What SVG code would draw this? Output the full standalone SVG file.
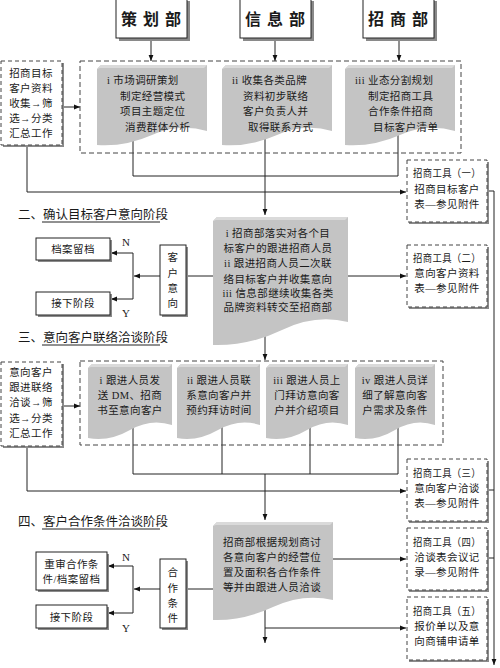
<svg xmlns="http://www.w3.org/2000/svg" width="500" height="668" viewBox="0 0 500 668">
<defs>
<marker id="ah" viewBox="0 0 10 10" refX="10" refY="5" markerWidth="6" markerHeight="6" orient="auto"><path d="M0,1 L10,5 L0,9 Z" fill="#111"/></marker>
<style>
.box{fill:#fff;stroke:#222;stroke-width:1}
.sh{fill:#8a8a8a}
.dash{fill:#fff;stroke:#444;stroke-width:1;stroke-dasharray:4 3}
.cont{fill:none;stroke:#444;stroke-width:1;stroke-dasharray:5 3}
.doc{fill:#c4c4c4}
.bev{fill:#dadada}
.ln{fill:none;stroke:#222;stroke-width:1}
.t{font-family:"Liberation Serif","Noto Sans CJK SC",serif;fill:#1a1a1a}
.s{font-size:10.5px;letter-spacing:0.4px}
.m{text-anchor:middle}
.hd{font-size:12.5px}
.top{font-size:16px;font-weight:bold;letter-spacing:6px;text-anchor:middle}
</style>
</defs>
<rect width="500" height="668" fill="#fff"/>

<g id="connectors">
<path class="ln" d="M151,38 V61" marker-end="url(#ah)"/>
<path class="ln" d="M275,38 V61" marker-end="url(#ah)"/>
<path class="ln" d="M399,38 V61" marker-end="url(#ah)"/>
<path class="ln" d="M62,107 H80" marker-end="url(#ah)"/>
<path class="ln" d="M133,135 V176 M265,135 V176 M398,135 V176 M133,176 H398"/>
<path class="ln" d="M265,176 V215" marker-end="url(#ah)"/>
<path class="ln" d="M27,145 V192 H406" marker-end="url(#ah)"/>
<path class="ln" d="M487,191 H494 V665" marker-end="url(#ah)"/>
<path class="ln" d="M487,490 H494 M487,558 H494"/>
<path class="ln" d="M348,276 H406" marker-end="url(#ah)"/>
<path class="ln" d="M213,276 H186"/>
<path class="ln" d="M160,276 H134" marker-end="url(#ah)"/>
<path class="ln" d="M133,253 V299"/>
<path class="ln" d="M133,253 H111" marker-end="url(#ah)"/>
<path class="ln" d="M133,299 H111" marker-end="url(#ah)"/>
<path class="ln" d="M265,335 V360" marker-end="url(#ah)"/>
<path class="ln" d="M62,406 H80" marker-end="url(#ah)"/>
<path class="ln" d="M133,425 V474 M222,425 V474 M310,425 V474 M398,425 V474 M133,474 H398"/>
<path class="ln" d="M265,474 V520" marker-end="url(#ah)"/>
<path class="ln" d="M27,446 V491 H406" marker-end="url(#ah)"/>
<path class="ln" d="M333,559 H406" marker-end="url(#ah)"/>
<path class="ln" d="M213,589 H186"/>
<path class="ln" d="M160,589 H134" marker-end="url(#ah)"/>
<path class="ln" d="M133,566 V613"/>
<path class="ln" d="M133,566 H108" marker-end="url(#ah)"/>
<path class="ln" d="M133,613 H108" marker-end="url(#ah)"/>
<path class="ln" d="M265,610 V643" marker-end="url(#ah)"/>
<path class="ln" d="M265,628 H406" marker-end="url(#ah)"/>
</g>

<g id="dept-cehua">
<rect class="sh" x="119" y="1" width="71" height="40"/>
<rect class="box" x="116" y="-2" width="71" height="40"/>
<text class="t top" x="154" y="25">策划部</text>
</g>
<g id="dept-xinxi">
<rect class="sh" x="243" y="1" width="71" height="40"/>
<rect class="box" x="240" y="-2" width="71" height="40"/>
<text class="t top" x="278" y="25">信息部</text>
</g>
<g id="dept-zhaoshang">
<rect class="sh" x="366" y="1" width="71" height="40"/>
<rect class="box" x="363" y="-2" width="71" height="40"/>
<text class="t top" x="401" y="25">招商部</text>
</g>

<g id="container-1"><rect class="cont" x="80" y="61" width="381" height="92"/></g>
<g id="left-1">
<rect class="sh" x="3" y="63" width="61" height="84"/>
<rect class="dash" x="1" y="61" width="61" height="84"/>
<text class="t s m" x="31" y="77">招商目标</text>
<text class="t s m" x="31" y="92">客户资料</text>
<text class="t s m" x="31" y="107">收集→筛</text>
<text class="t s m" x="31" y="122">选→分类</text>
<text class="t s m" x="31" y="137">汇总工作</text>
</g>
<g id="doc-1a">
<path class="doc" d="M97,69 L101,65 L207,65 L207,131 Q179,123 152,135 T97,145 Z"/>
<path class="bev" d="M97,69 L101,65 L207,65 L204,68 L100,68 Z"/>
<text class="t s" x="107" y="84">i 市场调研策划</text>
<text class="t s" x="120" y="100">制定经营模式</text>
<text class="t s" x="120" y="115">项目主题定位</text>
<text class="t s" x="125" y="131">消费群体分析</text>
</g>
<g id="doc-1b">
<path class="doc" d="M222,69 L226,65 L332,65 L332,131 Q304,123 277,135 T222,145 Z"/>
<path class="bev" d="M222,69 L226,65 L332,65 L329,68 L225,68 Z"/>
<text class="t s" x="232" y="84">ii 收集各类品牌</text>
<text class="t s" x="243" y="100">资料初步联络</text>
<text class="t s" x="243" y="115">客户负责人并</text>
<text class="t s" x="248" y="131">取得联系方式</text>
</g>
<g id="doc-1c">
<path class="doc" d="M345,69 L349,65 L455,65 L455,131 Q427,123 400,135 T345,145 Z"/>
<path class="bev" d="M345,69 L349,65 L455,65 L452,68 L348,68 Z"/>
<text class="t s" x="355" y="84">iii 业态分割规划</text>
<text class="t s" x="368" y="100">制定招商工具</text>
<text class="t s" x="368" y="115">合作条件招商</text>
<text class="t s" x="373" y="131">目标客户清单</text>
</g>
<g id="tool-1">
<rect class="sh" x="409" y="162" width="80" height="62"/>
<rect class="dash" x="407" y="160" width="80" height="62"/>
<text class="t s m" x="447" y="177" textLength="68" lengthAdjust="spacingAndGlyphs">招商工具（一）</text>
<text class="t s m" x="447" y="193">招商目标客户</text>
<text class="t s m" x="447" y="208">表—参见附件</text>
</g>

<g id="heading-2">
<text class="t hd" x="18" y="219">二、确认目标客户意向阶段</text>
<line x1="42" y1="222" x2="160" y2="222" stroke="#222" stroke-width="1"/>
</g>
<g id="doc-2">
<path class="doc" d="M213,221 L217,217 L348,217 L348,322 Q315,314 282,330 T213,345 Z"/>
<path class="bev" d="M213,221 L217,217 L348,217 L345,220 L216,220 Z"/>
<text class="t s m" x="278" y="237">i 招商部落实对各个目</text>
<text class="t s m" x="278" y="252">标客户的跟进招商人员</text>
<text class="t s m" x="278" y="267">ii 跟进招商人员二次联</text>
<text class="t s m" x="278" y="283">络目标客户并收集意向</text>
<text class="t s m" x="278" y="297">iii 信息部继续收集各类</text>
<text class="t s m" x="278" y="311">品牌资料转交至招商部</text>
</g>
<g id="intent">
<rect class="sh" x="162" y="247" width="26" height="70"/>
<rect class="box" x="160" y="245" width="26" height="70"/>
<text class="t s m" x="173" y="261">客</text>
<text class="t s m" x="173" y="277">户</text>
<text class="t s m" x="173" y="292">意</text>
<text class="t s m" x="173" y="307">向</text>
</g>
<g id="archive-2">
<rect class="sh" x="38" y="240" width="74" height="22"/>
<rect class="box" x="36" y="238" width="74" height="22"/>
<text class="t s m" x="73" y="253">档案留档</text>
</g>
<g id="next-2">
<rect class="sh" x="38" y="294" width="74" height="23"/>
<rect class="box" x="36" y="292" width="74" height="23"/>
<text class="t s m" x="73" y="307">接下阶段</text>
</g>
<text class="t" x="122" y="246" font-size="11">N</text>
<text class="t" x="122" y="317" font-size="11">Y</text>
<g id="tool-2">
<rect class="sh" x="409" y="247" width="80" height="62"/>
<rect class="dash" x="407" y="245" width="80" height="62"/>
<text class="t s m" x="447" y="262" textLength="68" lengthAdjust="spacingAndGlyphs">招商工具（二）</text>
<text class="t s m" x="447" y="277">意向客户资料</text>
<text class="t s m" x="447" y="292">表—参见附件</text>
</g>

<g id="heading-3">
<text class="t hd" x="18" y="342">三、意向客户联络洽谈阶段</text>
<line x1="42" y1="345" x2="160" y2="345" stroke="#222" stroke-width="1"/>
</g>
<g id="container-3"><rect class="cont" x="80" y="361" width="363" height="84"/></g>
<g id="left-3">
<rect class="sh" x="3" y="364" width="61" height="84"/>
<rect class="dash" x="1" y="362" width="61" height="84"/>
<text class="t s m" x="31" y="376">意向客户</text>
<text class="t s m" x="31" y="391">跟进联络</text>
<text class="t s m" x="31" y="406">洽谈→筛</text>
<text class="t s m" x="31" y="422">选→分类</text>
<text class="t s m" x="31" y="437">汇总工作</text>
</g>
<g id="doc-3a">
<path class="doc" d="M88,368 L92,364 L172,364 L172,425 Q151,418 130,430 T88,438 Z"/>
<path class="bev" d="M88,368 L92,364 L172,364 L169,367 L91,367 Z"/>
<text class="t s m" x="130" y="384">i 跟进人员发</text>
<text class="t s m" x="130" y="399">送 DM、招商</text>
<text class="t s m" x="130" y="414">书至意向客户</text>
</g>
<g id="doc-3b">
<path class="doc" d="M177,368 L181,364 L260,364 L260,425 Q239,418 218,430 T177,438 Z"/>
<path class="bev" d="M177,368 L181,364 L260,364 L257,367 L180,367 Z"/>
<text class="t s m" x="219" y="384">ii 跟进人员联</text>
<text class="t s m" x="219" y="399">系意向客户并</text>
<text class="t s m" x="219" y="414">预约拜访时间</text>
</g>
<g id="doc-3c">
<path class="doc" d="M266,368 L270,364 L348,364 L348,425 Q327,418 307,430 T266,438 Z"/>
<path class="bev" d="M266,368 L270,364 L348,364 L345,367 L269,367 Z"/>
<text class="t s m" x="307" y="384">iii 跟进人员上</text>
<text class="t s m" x="307" y="399">门拜访意向客</text>
<text class="t s m" x="307" y="414">户并介绍项目</text>
</g>
<g id="doc-3d">
<path class="doc" d="M355,368 L359,364 L435,364 L435,425 Q415,418 395,430 T355,438 Z"/>
<path class="bev" d="M355,368 L359,364 L435,364 L432,367 L358,367 Z"/>
<text class="t s m" x="395" y="384">iv 跟进人员详</text>
<text class="t s m" x="395" y="399">细了解意向客</text>
<text class="t s m" x="395" y="414">户需求及条件</text>
</g>
<g id="tool-3">
<rect class="sh" x="409" y="461" width="80" height="62"/>
<rect class="dash" x="407" y="459" width="80" height="62"/>
<text class="t s m" x="447" y="477" textLength="68" lengthAdjust="spacingAndGlyphs">招商工具（三）</text>
<text class="t s m" x="447" y="492">意向客户洽谈</text>
<text class="t s m" x="447" y="507">表—参见附件</text>
</g>

<g id="heading-4">
<text class="t hd" x="18" y="526">四、客户合作条件洽谈阶段</text>
<line x1="42" y1="529" x2="160" y2="529" stroke="#222" stroke-width="1"/>
</g>
<g id="doc-4">
<path class="doc" d="M213,526 L217,522 L333,522 L333,600 Q303,593 273,607 T213,620 Z"/>
<path class="bev" d="M213,526 L217,522 L333,522 L330,525 L216,525 Z"/>
<text class="t s m" x="272" y="546">招商部根据规划商讨</text>
<text class="t s m" x="272" y="561">各意向客户的经营位</text>
<text class="t s m" x="272" y="576">置及面积各合作条件</text>
<text class="t s m" x="272" y="591">等并由跟进人员洽谈</text>
</g>
<g id="coop">
<rect class="sh" x="162" y="561" width="26" height="69"/>
<rect class="box" x="160" y="559" width="26" height="69"/>
<text class="t s m" x="173" y="576">合</text>
<text class="t s m" x="173" y="592">作</text>
<text class="t s m" x="173" y="607">条</text>
<text class="t s m" x="173" y="622">件</text>
</g>
<g id="review-4">
<rect class="sh" x="38" y="554" width="71" height="38"/>
<rect class="box" x="36" y="552" width="71" height="38"/>
<text class="t s m" x="71.5" y="568">重审合作条</text>
<text class="t s m" x="71.5" y="583">件/档案留档</text>
</g>
<g id="next-4">
<rect class="sh" x="38" y="607" width="71" height="23"/>
<rect class="box" x="36" y="605" width="71" height="23"/>
<text class="t s m" x="71.5" y="621">接下阶段</text>
</g>
<text class="t" x="122" y="561" font-size="11">N</text>
<text class="t" x="122" y="632" font-size="11">Y</text>
<g id="tool-4">
<rect class="sh" x="409" y="530" width="80" height="62"/>
<rect class="dash" x="407" y="528" width="80" height="62"/>
<text class="t s m" x="447" y="546" textLength="68" lengthAdjust="spacingAndGlyphs">招商工具（四）</text>
<text class="t s m" x="447" y="561">洽谈表会议记</text>
<text class="t s m" x="447" y="576">录—参见附件</text>
</g>
<g id="tool-5">
<rect class="sh" x="409" y="599" width="80" height="63"/>
<rect class="dash" x="407" y="597" width="80" height="63"/>
<text class="t s m" x="447" y="615" textLength="68" lengthAdjust="spacingAndGlyphs">招商工具（五）</text>
<text class="t s m" x="447" y="630">报价单以及意</text>
<text class="t s m" x="447" y="645">向商铺申请单</text>
</g>
</svg>
